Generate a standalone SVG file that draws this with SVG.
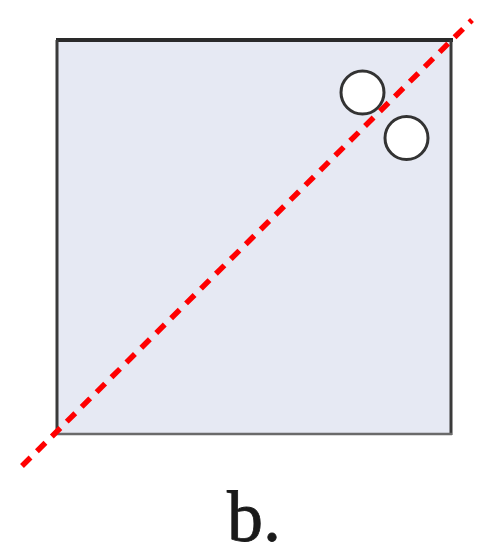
<svg xmlns="http://www.w3.org/2000/svg" width="489" height="556" viewBox="0 0 489 556">
<style>
.hole{fill:#ffffff;stroke:#333333;stroke-width:3}
.lbl{font-family:"Liberation Serif","DejaVu Serif",serif;font-size:72px;fill:#1a1a1a;stroke:#1a1a1a;stroke-width:0.8}
</style>
<rect width="489" height="556" fill="#ffffff"/>
<g id="plate">
<rect x="56" y="40" width="395" height="394" fill="#e6e9f3" stroke="none"/>
<line x1="56" y1="40" x2="453" y2="40" stroke="#2a2a2a" stroke-width="4"/>
<line x1="57" y1="40" x2="57" y2="435" stroke="#3a3a3a" stroke-width="3"/>
<line x1="451" y1="40" x2="451" y2="435" stroke="#3a3a3a" stroke-width="3"/>
<line x1="56" y1="434" x2="452" y2="434" stroke="#6a6a6a" stroke-width="2.5"/>
</g>
<g id="hole1"><circle class="hole" cx="362.5" cy="92.5" r="21.5"/></g>
<g id="hole2"><circle class="hole" cx="406.5" cy="138" r="21.5"/></g>
<g id="connectors">
<line x1="22" y1="466" x2="472" y2="20" stroke="#ff0000" stroke-width="5.5" stroke-dasharray="12 9"/>
</g>
<g id="label"><text class="lbl" x="227" y="541">b.</text></g>
</svg>
